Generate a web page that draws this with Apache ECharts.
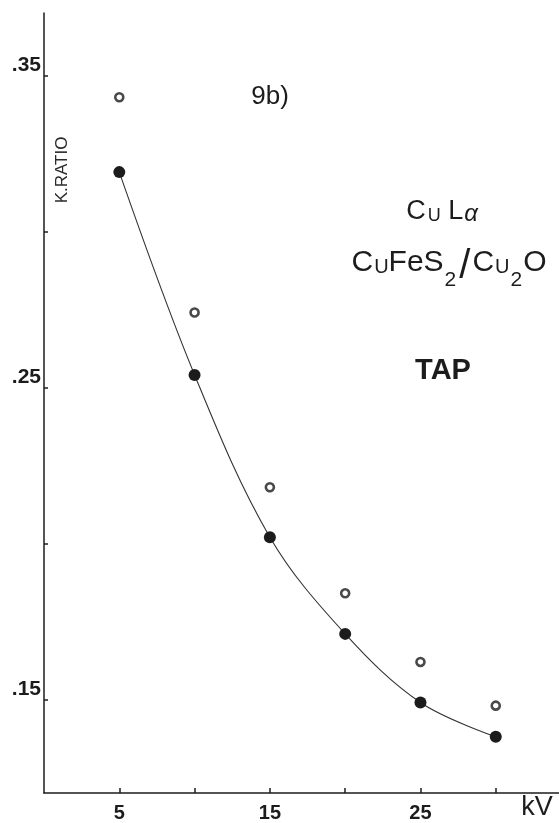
<!DOCTYPE html>
<html>
<head>
<meta charset="utf-8">
<script src="https://cdn.jsdelivr.net/npm/echarts@6/dist/echarts.min.js"></script>
<style>html,body{margin:0;padding:0;background:#fff;}#c{width:559px;height:823px;}</style>
</head>
<body>
<div id="c"></div>
<script>
// Data
const kV = [5, 10, 15, 20, 25, 30];
const filledRatio = [0.319, 0.254, 0.202, 0.171, 0.149, 0.138];
const hollowRatio = [0.343, 0.274, 0.218, 0.184, 0.162, 0.148];
const yTickValues = [0.15, 0.20, 0.25, 0.30, 0.35];
const yLabelValues = [0.15, 0.25, 0.35];
const xTickValues = [5, 10, 15, 20, 25, 30];
const xLabelValues = [5, 15, 25];

const ink = '#1c1c1c';
const font = '"Liberation Sans", Arial, sans-serif';

const chart = echarts.init(document.getElementById('c'), null, {renderer: 'canvas'});
chart.setOption({
  backgroundColor: '#ffffff',
  animation: false,
  grid: {left: 44, right: 0, top: 13, bottom: 30, containLabel: false},
  xAxis: {
    type: 'value', min: 0, max: 34.2,
    axisLine: {show: true, lineStyle: {color: ink, width: 1.5}},
    axisTick: {show: true, inside: true, length: 5, customValues: xTickValues, lineStyle: {color: ink, width: 1.5}},
    axisLabel: {show: true, customValues: xLabelValues, margin: 10, color: ink, fontSize: 20, fontWeight: 'bold', fontFamily: font},
    splitLine: {show: false}
  },
  yAxis: {
    type: 'value', min: 0.12, max: 0.37,
    axisLine: {show: true, lineStyle: {color: ink, width: 1.5}},
    axisTick: {show: true, inside: true, length: 4, customValues: yTickValues, lineStyle: {color: ink, width: 1.5}},
    axisLabel: {show: true, customValues: yLabelValues, margin: 3, color: ink, fontSize: 21, fontWeight: 'bold', fontFamily: font,
      verticalAlign: 'bottom', lineHeight: 21,
      formatter: v => '.' + Math.round(v * 100)},
    splitLine: {show: false}
  },
  series: [
    {
      type: 'line', smooth: 0.35,
      data: kV.map((x, i) => [x, filledRatio[i]]),
      symbol: 'circle', symbolSize: 12, showSymbol: true,
      itemStyle: {color: ink},
      lineStyle: {color: '#333', width: 1.1}
    },
    {
      type: 'scatter',
      data: kV.map((x, i) => [x, hollowRatio[i]]),
      symbol: 'circle', symbolSize: 8,
      itemStyle: {color: '#ffffff', borderColor: ink, borderWidth: 2.6}
    }
  ],
  graphic: [
    {type: 'text', x: 62, y: 170, rotation: Math.PI / 2,
      style: {text: 'K.RATIO', fontSize: 17, fontFamily: font, fill: '#2a2a2a', align: 'center', verticalAlign: 'middle'}},
    {type: 'text', x: 270, y: 97,
      style: {text: '9b)', fontSize: 26, fontFamily: font, fill: ink, align: 'center', verticalAlign: 'middle'}},
    {type: 'text', x: 442, y: 212,
      style: {text: '{m|C}{s|U}{m| L}{g|α}', align: 'center', verticalAlign: 'middle', fill: ink, fontFamily: font,
        rich: {
          m: {fontSize: 27, lineHeight: 30, fontFamily: font, fill: ink},
          s: {fontSize: 18, lineHeight: 18, padding: [9, 0, 0, 2], fontFamily: font, fill: ink},
          g: {fontSize: 24, lineHeight: 24, padding: [5, 0, 0, 1], fontFamily: font, fontStyle: 'italic', fill: ink}
        }}},
    {type: 'text', x: 449, y: 263,
      style: {text: '{m|C}{s|U}{m|FeS}{b|2}{sl|/}{m|C}{s|U}{b|2}{m|O}', align: 'center', verticalAlign: 'middle', fill: ink, fontFamily: font,
        rich: {
          m: {fontSize: 30, lineHeight: 32, fontFamily: font, fill: ink},
          s: {fontSize: 20, lineHeight: 20, padding: [9, 0, 0, 1], fontFamily: font, fill: ink},
          b: {fontSize: 21, lineHeight: 21, padding: [34, 1, 0, 1], fontFamily: font, fill: ink},
          sl: {fontSize: 40, lineHeight: 40, padding: [8, 2, 0, 2], fontFamily: font, fill: ink}
        }}},
    {type: 'text', x: 443, y: 371,
      style: {text: 'TAP', fontSize: 29, fontWeight: 'bold', fontFamily: font, fill: ink, align: 'center', verticalAlign: 'middle'}},
    {type: 'text', x: 537, y: 808,
      style: {text: 'kV', fontSize: 27, fontFamily: font, fill: ink, align: 'center', verticalAlign: 'middle'}}
  ]
});
</script>
</body>
</html>
